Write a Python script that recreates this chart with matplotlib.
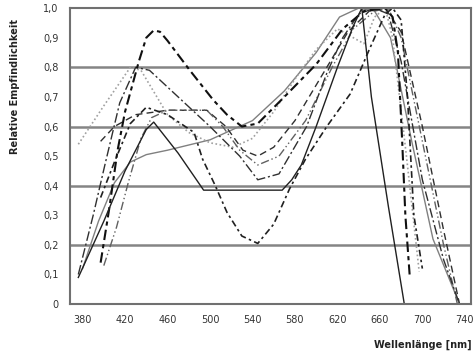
import matplotlib
matplotlib.use("Agg")
import matplotlib.pyplot as plt
from matplotlib.ticker import FuncFormatter

# ── Daten ────────────────────────────────────────────────────────────────────
x_ticks = [380, 420, 460, 500, 540, 580, 620, 660, 700, 740]
y_ticks = [0.0, 0.1, 0.2, 0.3, 0.4, 0.5, 0.6, 0.7, 0.8, 0.9, 1.0]
grid_y  = [0.2, 0.4, 0.6, 0.8]

# durchgezogen, Trapez
wl_a = [376, 400, 420, 440, 447, 470, 494, 568, 577, 586, 600, 620, 635, 643, 652, 668, 683]
s_a  = [0.09, 0.28, 0.45, 0.59, 0.615, 0.51, 0.385, 0.385, 0.42, 0.47, 0.6, 0.8, 0.94, 1.0, 0.70, 0.33, 0.0]

# durchgezogen grau, Schulter bei 0,5
wl_b = [380, 395, 410, 425, 440, 460, 500, 540, 570, 600, 622, 640, 655, 670, 690, 710, 735]
s_b  = [0.12, 0.28, 0.41, 0.48, 0.505, 0.52, 0.555, 0.62, 0.72, 0.85, 0.97, 1.0, 0.99, 0.9, 0.55, 0.22, 0.0]

# Strich-Punkt mit dicken Punkten, Maximum 0,93
wl_c = [397, 405, 413, 420, 433, 440, 447, 453, 460, 481, 503, 516, 530, 545, 570, 600, 625, 645, 665, 672, 677, 681, 684, 688]
s_c  = [0.14, 0.32, 0.52, 0.65, 0.82, 0.9, 0.925, 0.92, 0.89, 0.79, 0.69, 0.64, 0.6, 0.61, 0.7, 0.81, 0.93, 0.99, 1.0, 0.97, 0.85, 0.55, 0.3, 0.1]

# Strich-Punkt, Maximum 0,8, Minimum 0,42
wl_d = [376, 390, 401, 415, 430, 443, 470, 500, 528, 545, 565, 591, 610, 625, 640, 655, 668, 680, 700, 720, 735]
s_d  = [0.1, 0.3, 0.47, 0.68, 0.8, 0.79, 0.7, 0.6, 0.5, 0.42, 0.44, 0.6, 0.78, 0.9, 0.98, 1.0, 0.98, 0.82, 0.42, 0.15, 0.0]

# gestrichelt, Plateau 0,65, Minimum 0,5
wl_e = [397, 410, 430, 460, 497, 515, 531, 545, 560, 580, 610, 630, 650, 665, 680, 700, 720, 735]
s_e  = [0.55, 0.6, 0.64, 0.655, 0.655, 0.6, 0.52, 0.5, 0.53, 0.62, 0.8, 0.92, 0.99, 1.0, 0.92, 0.6, 0.25, 0.0]

# Strich-Punkt, Maximum 0,67, Minimum 0,2
wl_f = [397, 410, 425, 440, 460, 485, 493, 505, 516, 530, 545, 560, 575, 590, 610, 632, 650, 665, 672, 680, 686, 692, 700]
s_f  = [0.36, 0.48, 0.61, 0.665, 0.64, 0.58, 0.49, 0.4, 0.31, 0.23, 0.205, 0.27, 0.39, 0.49, 0.6, 0.71, 0.86, 0.98, 1.0, 0.96, 0.7, 0.3, 0.12]

# gepunktet hellgrau
wl_g = [376, 400, 425, 435, 445, 460, 480, 500, 522, 540, 560, 580, 600, 620, 635, 645, 655, 665, 672, 685, 697]
s_g  = [0.54, 0.67, 0.8, 0.79, 0.73, 0.64, 0.58, 0.545, 0.53, 0.56, 0.65, 0.76, 0.86, 0.93, 0.9, 0.88, 0.97, 1.0, 0.9, 0.5, 0.11]

# Strich-Punkt-Punkt, grau
wl_h = [400, 412, 423, 435, 445, 460, 497, 512, 528, 545, 565, 590, 615, 635, 655, 668, 680, 700, 720, 733]
s_h  = [0.13, 0.26, 0.41, 0.56, 0.63, 0.655, 0.655, 0.6, 0.52, 0.47, 0.5, 0.62, 0.8, 0.93, 0.99, 1.0, 0.9, 0.55, 0.2, 0.0]

curves = [
    (wl_b, s_b, "#808080", "-", 1.0),
    (wl_g, s_g, "#a0a0a0", (0, (1, 1.5)), 1.2),
    (wl_e, s_e, "#303030", (0, (5, 3)), 1.0),
    (wl_h, s_h, "#606060", (0, (6, 2, 1, 2, 1, 2)), 1.0),
    (wl_d, s_d, "#303030", (0, (7, 2, 1.5, 2)), 1.0),
    (wl_f, s_f, "#202020", (0, (4, 2, 1.5, 2)), 1.2),
    (wl_c, s_c, "#101010", (0, (5, 2, 2, 2)), 1.5),
    (wl_a, s_a, "#202020", "-", 1.0),
]

fig = plt.figure(figsize=(4.75, 3.54), dpi=100)
ax = fig.add_axes([0.147, 0.141, 0.845, 0.836])

for yv in grid_y:
    ax.axhline(yv, color="#858585", linewidth=1.8, zorder=1)

for wl, s, col, ls, lw in curves:
    ax.plot(wl, s, color=col, linestyle=ls, linewidth=lw, zorder=2)

ax.set_xlim(368, 746)
ax.set_ylim(0, 1.0)
ax.set_xticks(x_ticks)
ax.set_yticks(y_ticks)
ax.yaxis.set_major_formatter(FuncFormatter(lambda v, p: "0" if v == 0 else f"{v:.1f}".replace(".", ",")))
ax.tick_params(length=0, labelsize=7, colors="#333333", pad=8)

for sp in ax.spines.values():
    sp.set_color("#707070")
    sp.set_linewidth(1.5)

fig.text(15 / 475, 1 - 86 / 354, "Relative Empfindlichkeit", rotation=90,
         ha="center", va="center", fontsize=7, fontweight="bold", color="#222222")
fig.text(472 / 475, 1 - 345 / 354, "Wellenlänge [nm]", ha="right", va="center",
         fontsize=7, fontweight="bold", color="#222222")

fig.savefig("out.png", dpi=100)
